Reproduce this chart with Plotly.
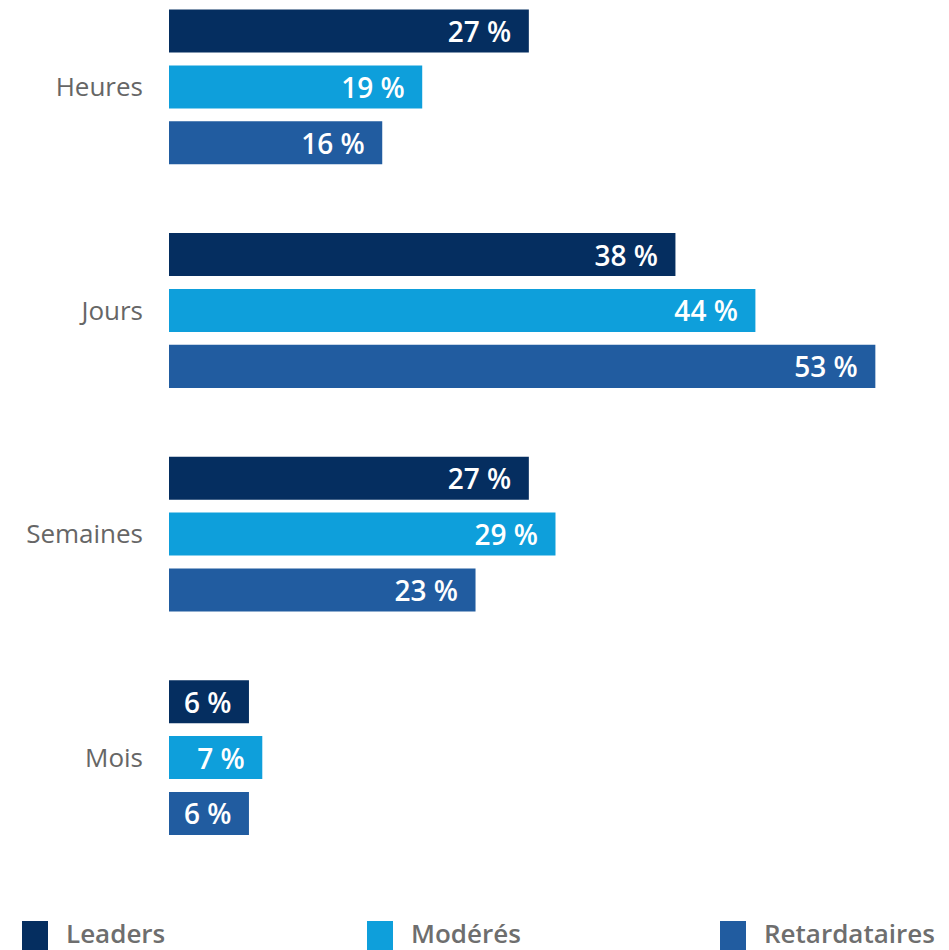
import plotly.graph_objects as go

categories = ["Heures", "Jours", "Semaines", "Mois"]
series_names = ["Leaders", "Modérés", "Retardataires"]
leaders = [27, 38, 27, 6]
moderes = [19, 44, 29, 7]
retardataires = [16, 53, 23, 6]
colors = ["#052e60", "#0e9fdb", "#215ca0"]

values = [leaders, moderes, retardataires]

fig = go.Figure()
for name, vals, col in zip(series_names, values, colors):
    fig.add_trace(go.Bar(
        y=categories, x=vals, name=name, orientation="h",
        marker=dict(color=col, line=dict(width=0)),
        texttemplate="%{x} %\u00a0\u00a0",
        textposition="inside", insidetextanchor="end",
        textfont=dict(family="Open Sans", size=28, color="white", weight=600),
        showlegend=False, hoverinfo="skip",
    ))

# legend drawn as swatches + labels below the plot
leg_x = [22, 367, 720]
W, H = 949, 950
ml, mr, mt, mb = 169, 47, 0, 80
pw, ph = W - ml - mr, H - mt - mb
for name, col, px in zip(series_names, colors, leg_x):
    x0 = (px - ml) / pw
    x1 = (px + 26 - ml) / pw
    y0 = (ph - 921) / ph
    y1 = (ph - 950) / ph
    fig.add_shape(type="rect", xref="paper", yref="paper", x0=x0, x1=x1,
                  y0=y0, y1=y1, fillcolor=col, line=dict(width=0))
    fig.add_annotation(xref="paper", yref="paper", x=(px + 42 - ml) / pw,
                       y=(ph - 933) / ph, text=name, showarrow=False,
                       xanchor="left", yanchor="middle",
                       font=dict(family="Open Sans", size=26, color="#6e6e6e", weight=600))

fig.update_layout(
    width=W, height=H,
    margin=dict(l=ml, r=mr, t=mt, b=mb, autoexpand=False),
    barmode="group", bargap=0.25, bargroupgap=0.23,
    plot_bgcolor="white", paper_bgcolor="white",
    uniformtext=dict(minsize=28, mode="show"),
    xaxis=dict(range=[0, 55], visible=False, showgrid=False, zeroline=False),
    yaxis=dict(type="category", categoryorder="array", categoryarray=categories,
               range=[3.503, -0.389], showgrid=False, zeroline=False,
               showline=False, ticks="", ticklabelstandoff=25,
               tickfont=dict(family="Open Sans", size=26, color="#666666")),
)

fig.write_html("out.html")
